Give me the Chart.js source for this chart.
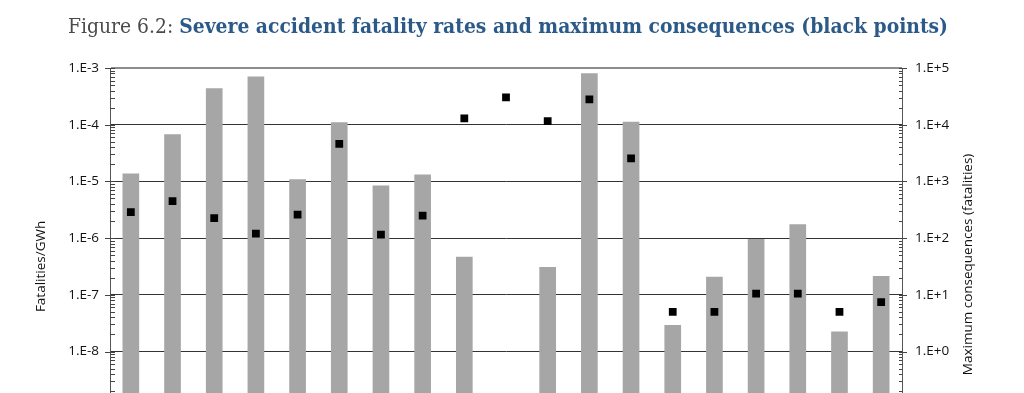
<!DOCTYPE html>
<html><head><meta charset="utf-8">
<script src="https://cdn.jsdelivr.net/npm/chart.js@4/dist/chart.umd.min.js"></script>
<style>
html,body{margin:0;padding:0;background:#fff;overflow:hidden;width:1024px;height:393px;}
#title{position:absolute;left:68px;top:14px;white-space:nowrap;font-family:"DejaVu Serif Condensed","DejaVu Serif",serif;font-size:20px;line-height:24px;transform-origin:0 0;}
#title .a{color:#4a4a4a;}
#title .b{color:#2c5a88;font-weight:bold;}
#wrap{position:absolute;left:0;top:0;width:1024px;height:486px;}
</style></head><body>
<div id="wrap"><canvas id="c"></canvas></div>
<div id="title"><span class="a">Figure 6.2: </span><span class="b">Severe accident fatality rates and maximum consequences (black points)</span></div>
<script>
// ---- data ----
const categories = ['C1','C2','C3','C4','C5','C6','C7','C8','C9','C10','C11','C12','C13','C14','C15','C16','C17','C18','C19'];
const fatalityRates = [1.38e-5, 6.8e-5, 4.4e-4, 7.1e-4, 1.09e-5, 1.11e-4, 8.45e-6, 1.32e-5, 4.7e-7, null, 3.1e-7, 8.05e-4, 1.13e-4, 2.92e-8, 2.09e-7, 9.6e-7, 1.75e-6, 2.25e-8, 2.14e-7];
const maxConsequences = [286, 447, 226, 120, 260, 4600, 115, 250, 12900, 30300, 11600, 28000, 2540, 5, 5, 10.5, 10.5, 5, 7.4];
const leftTickValues = [1e-10, 1e-9, 1e-8, 1e-7, 1e-6, 1e-5, 1e-4, 1e-3];
const leftTickLabels = ['1.E-10','1.E-9','1.E-8','1.E-7','1.E-6','1.E-5','1.E-4','1.E-3'];
const rightTickValues = [1e-2, 1e-1, 1e0, 1e1, 1e2, 1e3, 1e4, 1e5];
const rightTickLabels = ['1.E-2','1.E-1','1.E+0','1.E+1','1.E+2','1.E+3','1.E+4','1.E+5'];
const leftTitle = 'Fatalities/GWh';
const rightTitle = 'Maximum consequences (fatalities)';

// fit title width
(function(){
  const t = document.getElementById('title');
  const w = t.getBoundingClientRect().width;
  t.style.transform = 'scaleX(' + (880 / w) + ')';
})();

const FONT = {family: "'Open Sans', sans-serif", size: 13.5};

function labelFor(vals, labels, v){
  for (let i=0;i<vals.length;i++){ if (Math.abs(Math.log10(vals[i]) - Math.log10(v)) < 1e-6) return labels[i]; }
  return '';
}

const tickPlugin = {
  id: 'minorTicks',
  afterDraw(chart){
    const ctx = chart.ctx, area = chart.chartArea;
    ctx.save();
    ctx.strokeStyle = '#444';
    ctx.lineWidth = 1;
    const draw = (scale, vals, x0min, x0maj, x1min, x1maj) => {
      const lo = Math.round(Math.log10(vals[0])), hi = Math.round(Math.log10(vals[vals.length-1]));
      for (let e = lo; e <= hi; e++){
        for (let m = 1; m <= 9; m++){
          const v = m * Math.pow(10, e);
          const p = scale.getPixelForValue(v);
          if (p < area.top - 0.5 || p > area.bottom + 0.5) continue;
          const y = Math.round(p) + 0.5;
          ctx.beginPath();
          if (m === 1){ ctx.moveTo(x0maj, y); ctx.lineTo(x1maj, y); }
          else { ctx.moveTo(x0min, y); ctx.lineTo(x1min, y); }
          ctx.stroke();
        }
      }
    };
    const L = chart.scales.y, R = chart.scales.y1;
    draw(L, leftTickValues, L.right, L.right - 5, L.right + 5, L.right + 5);
    draw(R, rightTickValues, R.left - 3, R.left - 3, R.left, R.left + 5);
    // right axis title (reads bottom to top)
    ctx.fillStyle = '#111';
    ctx.font = "13.5px 'Open Sans', sans-serif";
    ctx.textAlign = 'center';
    ctx.textBaseline = 'middle';
    ctx.translate(968, (area.top + area.bottom) / 2 - 2);
    ctx.rotate(-Math.PI / 2);
    ctx.fillText(rightTitle, 0, 0);
    ctx.restore();
  }
};

new Chart(document.getElementById('c'), {
  type: 'bar',
  data: {
    labels: categories,
    datasets: [
      {
        type: 'line', label: 'Maximum consequences', data: maxConsequences, yAxisID: 'y1',
        showLine: false, pointStyle: 'rect', pointRadius: 5.5, pointHoverRadius: 5.5,
        pointBackgroundColor: '#000', pointBorderWidth: 0, borderWidth: 0, order: 1
      },
      {
        type: 'bar', label: 'Fatality rate', data: fatalityRates, yAxisID: 'y',
        backgroundColor: '#a6a6a6', borderWidth: 0, barPercentage: 0.4, categoryPercentage: 1.0, order: 2
      }
    ]
  },
  options: {
    responsive: true, maintainAspectRatio: false, animation: false,
    layout: {padding: {top: 68, bottom: 16, left: 0, right: 0}},
    plugins: {legend: {display: false}, tooltip: {enabled: false}, title: {display: false}},
    scales: {
      x: {type: 'category', offset: true, display: false},
      y: {
        type: 'logarithmic', position: 'left', min: 1e-10, max: 1e-3,
        afterBuildTicks: s => { s.ticks = leftTickValues.map(v => ({value: v, major: true})); },
        afterFit: s => { s.width = 110; },
        ticks: {autoSkip: false, padding: 11, color: '#111', font: FONT,
          callback: v => labelFor(leftTickValues, leftTickLabels, v)},
        grid: {drawTicks: false,
          color: c => (c.tick && Math.abs(c.tick.value - 1e-3) < 1e-12) ? '#8c8c8c' : '#333',
          lineWidth: c => (c.tick && Math.abs(c.tick.value - 1e-3) < 1e-12) ? 2 : 1},
        border: {display: true, color: '#555', width: 1},
        title: {display: true, text: leftTitle, color: '#111', font: FONT, padding: {top: 33, bottom: 0}}
      },
      y1: {
        type: 'logarithmic', position: 'right', min: 1e-2, max: 1e5,
        afterBuildTicks: s => { s.ticks = rightTickValues.map(v => ({value: v, major: true})); },
        afterFit: s => { s.width = 122; },
        ticks: {autoSkip: false, padding: 13, color: '#111', font: FONT,
          callback: v => labelFor(rightTickValues, rightTickLabels, v)},
        grid: {drawOnChartArea: false, drawTicks: false},
        border: {display: true, color: '#555', width: 1},
        title: {display: false}
      }
    }
  },
  plugins: [tickPlugin]
});
</script>
</body></html>
